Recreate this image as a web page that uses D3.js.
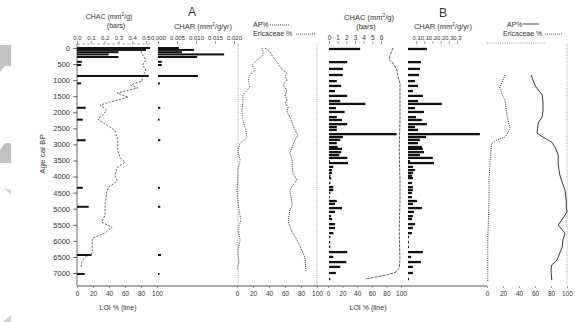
<!DOCTYPE html>
<html>
<head>
<meta charset="utf-8">
<script src="https://cdn.jsdelivr.net/npm/d3@7/dist/d3.min.js"></script>
<style>
body { margin: 0; background: #fff; }
svg { font-family: "Liberation Sans", Arial, sans-serif; }
</style>
</head>
<body>
<script>
// ---- site A : charcoal samples (age cal BP) ----
const ageA  = [0, 60, 130, 200, 280, 430, 530, 870, 1100, 1860, 2230, 2870, 4350, 4940, 6440, 7030];
const chacA = [0.53, 0.50, 0.30, 0.23, 0.30, 0.035, 0.03, 0.52, 0.03, 0.063, 0.042, 0.063, 0.042, 0.085, 0.105, 0.056];
const charA = [0.0055, 0.0095, 0.0063, 0.0174, 0.0103, 0.001, 0.001, 0.0105, 0.0005, 0.0006, 0.0004, 0.0006, 0.0005, 0.0006, 0.0008, 0.0004];

const ageLoiA = [0, 125, 375, 530, 685, 900, 1030, 1150, 1245, 1400, 1525, 1680, 1775, 1930, 2085, 2210, 2400, 2555, 2865, 3180, 3425, 3550, 3705, 3955, 4110, 4205, 4330, 4515, 4735, 4950, 5200, 5420, 5575, 5760, 5920, 6385, 6510, 6665, 6850];
const loiA    = [82, 80, 86, 82, 86, 82, 81, 67, 76, 50, 64, 41, 29, 37, 32, 26, 37, 47, 51, 51, 54, 60, 51, 47, 50, 47, 39, 37, 36, 35, 35, 31, 44, 35, 19, 19, 10, 6, 5];

const ageApA = [0, 120, 280, 440, 590, 690, 780, 900, 1000, 1150, 1310, 1460, 1620, 1710, 1840, 1990, 2150, 2330, 2550, 2710, 2860, 3080, 3270, 3490, 3700, 3890, 4110, 4260, 4420, 4640, 4890, 5040, 5410, 5730, 5970, 6290, 6530, 6850, 6970];
const apA    = [35, 41, 45, 50, 54, 57.5, 62.5, 60, 62.5, 57.5, 62.5, 60, 62.5, 60, 64, 62.5, 66, 69, 72.5, 76, 72.5, 69, 66, 69, 69, 70, 75, 70, 66, 67.5, 69, 66, 64, 69, 75, 81, 85, 86, 86];

const ageEriA = [0, 120, 220, 370, 530, 690, 840, 1000, 1210, 1460, 1620, 1930, 2240, 2550, 2770, 2860, 2960, 3170, 3490, 3800, 4110, 4420, 4730, 5040, 5350, 5660, 5970, 6290, 6660, 6910];
const eriA    = [31, 32.5, 32.5, 25, 19, 22.5, 16, 14, 16, 7.5, 7.5, 6, 7.5, 11, 12.5, 10, 4, 1, 4, 1, 1, 0, 1, 2.5, 5, 1, 4, 1, 2.5, 0];

// ---- site B ----
const ageB  = [30, 440, 650, 840, 1030, 1180, 1340, 1490, 1650, 1740, 1870, 1990, 2150, 2240, 2370, 2460, 2550, 2680, 2770, 2860, 2960, 3080, 3140, 3240, 3330, 3420, 3520, 3580, 3700, 3800, 3890, 3980, 4050, 4200, 4330, 4420, 4510, 4640, 4760, 4850, 4980, 5100, 5230, 5320, 5480, 5600, 5760, 5880, 6040, 6190, 6350, 6500, 6660, 6810, 7000, 7190];
const chacB = [3.6, 2.1, 1.6, 1.6, 0.9, 1.4, 0.7, 2.1, 1.3, 4.2, 0.8, 1.8, 0.9, 1.5, 2.1, 0.9, 0.9, 7.8, 1.6, 1.3, 0.9, 1.0, 1.5, 1.4, 1.2, 2.1, 0.1, 2.2, 0.5, 0.35, 0.35, 0.15, 0.25, 0.15, 0.5, 0.5, 0.15, 0.1, 0.9, 0.7, 1.5, 0.7, 0.25, 0.35, 0.7, 0.7, 0.5, 0.15, 0.15, 0.15, 2.1, 0.5, 2.0, 1.3, 0.8, 0.15];
const charB = [0.116, 0.079, 0.073, 0.067, 0.043, 0.061, 0.030, 0.091, 0.061, 0.207, 0.043, 0.098, 0.049, 0.085, 0.116, 0.043, 0.061, 0.44, 0.11, 0.073, 0.061, 0.085, 0.091, 0.098, 0.073, 0.152, 0.012, 0.159, 0.030, 0.043, 0.030, 0.024, 0.030, 0.024, 0.030, 0.030, 0.024, 0.024, 0.055, 0.030, 0.085, 0.037, 0.030, 0.024, 0.043, 0.030, 0.024, 0.006, 0.006, 0.006, 0.091, 0.018, 0.079, 0.030, 0.030, 0.006];

const ageLoiB = [0, 220, 370, 470, 690, 900, 1090, 1620, 2240, 3170, 4110, 4730, 5660, 6600, 6850, 6970, 7060, 7160, 7190];
const loiB    = [89, 85, 84, 89, 94.5, 96, 98.6, 98.6, 98.6, 97.5, 98.6, 98.6, 97.5, 98.6, 97.5, 93, 81, 58, 51];

const ageApB = [840, 1000, 1210, 1460, 1710, 1930, 2150, 2330, 2650, 2770, 2930, 3080, 3330, 3640, 3950, 4260, 4420, 4730, 4950, 5100, 5290, 5510, 5760, 5970, 6190, 6380, 6600, 6750, 6910, 7220];
const apB    = [55, 57.5, 61, 69, 70, 70, 69, 64, 62.5, 70, 81, 85, 89, 89, 91, 95, 97.5, 99, 99, 100, 95, 89, 97.5, 95, 94, 91, 87.5, 81, 80, 81];

const ageEriB = [840, 1000, 1210, 1460, 1620, 1930, 2090, 2240, 2490, 2650, 2770, 2860, 2960, 3170, 3490, 4110, 4730, 5970, 7280];
const eriB    = [22.5, 20, 16, 19, 22.5, 24, 25, 26, 29, 26, 22.5, 12.5, 6, 5, 4, 2.5, 2.5, 1, 1];

// ticks
const ageTicks   = d3.range(0, 7001, 500);
const chacATicks = [0, 0.1, 0.2, 0.3, 0.4, 0.5];
const chacALabels = ['0.0', '0.1', '0.2', '0.3', '0.4', '0.5'];
const charATicks = [0, 0.005, 0.01, 0.015, 0.02];
const charALabels = ['0.000', '0.005', '0.010', '0.015', '0.020'];
const chacBTicks = [0, 1, 2, 3, 4, 5, 6];
const charBTicks = [0.05, 0.1, 0.15, 0.2, 0.25, 0.3];
const charBLabels = ['0.1', '0.1', '0.2', '0.2', '0.3', '0.3'];
const pctTicks = [0, 20, 40, 60, 80, 100];

const W = 575, H = 322;
const svg = d3.select('body').append('svg').attr('width', W).attr('height', H);
const ink = '#333';

// grey scraps at the left margin of the scan
const scraps = [
  [[0,45],[11,45],[11,66],[5,66],[0,72]],
  [[5,143],[11,143],[11,163],[0,163],[0,150]],
  [[4,188],[11,190],[11,195]],
  [[11,315],[11,322],[3,322]]
];
svg.selectAll('polygon.scrap').data(scraps).join('polygon')
  .attr('points', d => d.map(p => p.join(',')).join(' '))
  .attr('fill', (d, i) => i < 2 ? '#c2c2c2' : '#d2d2d2');

// scales
const y = d3.scaleLinear().domain([0, 7000]).range([48, 273]);
const xChacA = d3.scaleLinear().domain([0, 0.5]).range([77, 146]);
const xCharA = d3.scaleLinear().domain([0, 0.02]).range([158, 234]);
const xLoiA  = d3.scaleLinear().domain([0, 100]).range([77, 157]);
const xPolA  = d3.scaleLinear().domain([0, 100]).range([237, 317]);
const xChacB = d3.scaleLinear().domain([0, 6]).range([329, 381]);
const xCharB = d3.scaleLinear().domain([0, 0.3]).range([408, 457]);
const xLoiB  = d3.scaleLinear().domain([0, 100]).range([328, 401]);
const xPolB  = d3.scaleLinear().domain([0, 100]).range([487, 567]);

function zip(a, b) { return a.map((v, i) => [v, b[i]]); }

function bars(ages, vals, sx, h) {
  svg.append('g').selectAll('rect').data(zip(ages, vals)).join('rect')
    .attr('x', sx(0))
    .attr('y', d => y(d[0]) - h / 2)
    .attr('width', d => Math.max(0.8, sx(d[1]) - sx(0)))
    .attr('height', h)
    .attr('fill', '#111');
}

function curve(ages, vals, sx, dash, w, col) {
  const line = d3.line().x(d => sx(d[1])).y(d => y(d[0]));
  svg.append('path').datum(zip(ages, vals))
    .attr('d', line)
    .attr('fill', 'none')
    .attr('stroke', col || '#222')
    .attr('stroke-width', w)
    .attr('stroke-dasharray', dash);
}

function topAxis(sx, ticks, labels, ty, fs) {
  const g = svg.append('g').attr('transform', `translate(0,${ty})`)
    .call(d3.axisTop(sx).tickValues(ticks).tickSize(3).tickPadding(1)
      .tickFormat((d, i) => labels ? labels[i] : d));
  g.select('.domain').remove();
  g.selectAll('line').attr('stroke', '#555').attr('stroke-width', 0.6);
  g.selectAll('text').attr('font-size', fs).attr('fill', ink).attr('font-family', null);
  return g;
}

function bottomAxis(sx) {
  const g = svg.append('g').attr('transform', 'translate(0,286)')
    .call(d3.axisBottom(sx).tickValues(pctTicks).tickSize(2).tickPadding(3));
  g.select('.domain').remove();
  g.selectAll('line').attr('stroke', '#555').attr('stroke-width', 0.6);
  g.selectAll('text').attr('font-size', 6.5).attr('fill', ink).attr('font-family', null);
}

// frames / guide lines
svg.append('line').attr('x1', 77).attr('x2', 77).attr('y1', 44).attr('y2', 286)
  .attr('stroke', '#444').attr('stroke-width', 0.8);
svg.append('line').attr('x1', 77).attr('x2', 487).attr('y1', 286).attr('y2', 286)
  .attr('stroke', '#444').attr('stroke-width', 0.9);
svg.append('line').attr('x1', 77).attr('x2', 150).attr('y1', 44).attr('y2', 44)
  .attr('stroke', '#777').attr('stroke-width', 0.6).attr('stroke-dasharray', '3,2');
[238, 317, 567].forEach(x => {
  svg.append('line').attr('x1', x).attr('x2', x).attr('y1', 44).attr('y2', 285)
    .attr('stroke', '#888').attr('stroke-width', 0.8).attr('stroke-dasharray', '1,1.2');
});
svg.append('line').attr('x1', 487).attr('x2', 545).attr('y1', 43).attr('y2', 43)
  .attr('stroke', '#888').attr('stroke-width', 0.8).attr('stroke-dasharray', '1,1.2');

// age axis
const ya = svg.append('g').attr('transform', 'translate(77,0)')
  .call(d3.axisLeft(y).tickValues(ageTicks).tickSize(4).tickPadding(3).tickFormat(d3.format('d')));
ya.select('.domain').remove();
ya.selectAll('line').attr('stroke', '#444').attr('stroke-width', 0.8);
ya.selectAll('text').attr('font-size', 7.5).attr('fill', ink).attr('font-family', null);

svg.append('text').attr('transform', 'translate(45,154) rotate(-90)')
  .attr('text-anchor', 'middle').attr('font-size', 8).attr('fill', ink).text('Age cal BP');

// top axes
topAxis(xChacA, chacATicks, chacALabels, 44, 6);
topAxis(xCharA, charATicks, charALabels, 44, 6);
topAxis(xChacB, chacBTicks, null, 44, 6.5);
topAxis(xCharB, charBTicks, charBLabels, 44, 6);

// bottom axes
bottomAxis(xLoiA);
bottomAxis(xPolA);
bottomAxis(xLoiB);
bottomAxis(xPolB);

// panel A
bars(ageA, chacA, xChacA, 2);
bars(ageA, charA, xCharA, 2);
curve(ageLoiA, loiA, xLoiA, '2,1.5', 0.8, '#333');
curve(ageApA, apA, xPolA, '1,1', 0.9, '#222');
curve(ageEriA, eriA, xPolA, '1,1.3', 0.9, '#333');

// panel B
bars(ageB, chacB, xChacB, 2.3);
bars(ageB, charB, xCharB, 2.3);
curve(ageLoiB, loiB, xLoiB, '3,1', 0.8, '#333');
curve(ageApB, apB, xPolB, null, 0.9, '#222');
curve(ageEriB, eriB, xPolB, '1,1.2', 0.9, '#222');

// headers
function txt(x, yy, s, fs, anchor) {
  return svg.append('text').attr('x', x).attr('y', yy).attr('font-size', fs)
    .attr('fill', ink).attr('text-anchor', anchor || 'middle').text(s);
}
function unitTxt(x, yy, pre, post, fs) {
  const t = svg.append('text').attr('x', x).attr('y', yy).attr('font-size', fs || 7.5)
    .attr('fill', ink).attr('text-anchor', 'middle');
  t.append('tspan').text(pre);
  t.append('tspan').attr('font-size', 5).attr('dy', -3).text('2');
  t.append('tspan').attr('dy', 3).text(post);
}

txt(192, 16, 'A', 12);
txt(443, 17, 'B', 12);

unitTxt(109, 19, 'CHAC (mm', '/g)', 7);
txt(116, 28, '(bars)', 7);
unitTxt(203, 29, 'CHAR (mm', '/g/yr)');

unitTxt(369, 20, 'CHAC (mm', '/g)');
txt(366, 29, '(bars)', 7.5);
unitTxt(443, 29, 'CHAR (mm', '/g/yr)');

// pollen legends
txt(253, 27, 'AP%', 7, 'start');
svg.append('line').attr('x1', 270).attr('x2', 290).attr('y1', 25).attr('y2', 25)
  .attr('stroke', '#333').attr('stroke-width', 0.9).attr('stroke-dasharray', '1,1');
txt(253, 36, 'Ericaceae %', 7, 'start');
svg.append('line').attr('x1', 296).attr('x2', 315).attr('y1', 34).attr('y2', 34)
  .attr('stroke', '#333').attr('stroke-width', 0.9).attr('stroke-dasharray', '1,1');

txt(507, 27, 'AP%', 7, 'start');
svg.append('line').attr('x1', 523).attr('x2', 539).attr('y1', 24).attr('y2', 24)
  .attr('stroke', '#333').attr('stroke-width', 0.9);
txt(503, 36, 'Ericaceae %', 7, 'start');
svg.append('line').attr('x1', 545).attr('x2', 562).attr('y1', 34).attr('y2', 34)
  .attr('stroke', '#333').attr('stroke-width', 0.9).attr('stroke-dasharray', '1,1');

txt(118, 310, 'LOI % (line)', 7);
txt(368, 310, 'LOI % (line)', 7);
</script>
</body>
</html>
